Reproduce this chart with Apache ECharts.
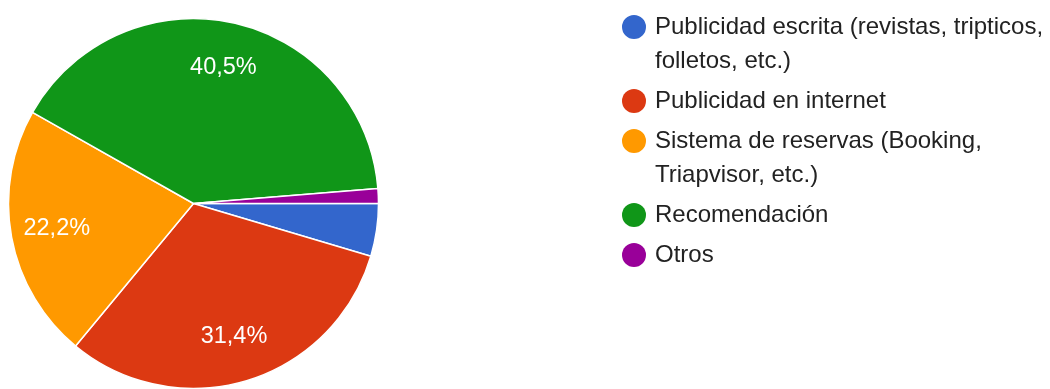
<!DOCTYPE html>
<html>
<head>
<meta charset="utf-8">
<script src="https://cdn.jsdelivr.net/npm/echarts@6/dist/echarts.min.js"></script>
<style>
  html, body { margin: 0; padding: 0; background: #ffffff; overflow: hidden; }
  #chart { width: 1050px; height: 389px; }
</style>
</head>
<body>
<div id="chart"></div>
<script>
// Answer categories, in drawing order (clockwise from 3 o'clock)
const categories = [
  'Publicidad escrita (revistas, tripticos, folletos, etc.)',
  'Publicidad en internet',
  'Sistema de reservas (Booking, Triapvisor, etc.)',
  'Recomendación',
  'Otros'
];
// Legend text, wrapped into lines
const legendLines = [
  ['Publicidad escrita (revistas, tripticos,', 'folletos, etc.)'],
  ['Publicidad en internet'],
  ['Sistema de reservas (Booking,', 'Triapvisor, etc.)'],
  ['Recomendación'],
  ['Otros']
];
// Share of responses, percent
const shares = [4.6, 31.4, 22.2, 40.5, 1.3];
const palette = ['#3366cc', '#dc3912', '#ff9900', '#109618', '#990099'];

const FONT = '"Liberation Sans", Arial, sans-serif';

// Dot sitting at the top of a two-line legend entry (the empty tail keeps
// the symbol box as tall as both text lines)
const TOP_DOT = 'path://M0,12A12,12,0,1,0,24,12A12,12,0,1,0,0,12ZM12,58L12.01,58Z';

const sliceData = categories.map((name, i) => ({ name: name, value: shares[i] }));

const legendData = categories.map((name, i) => ({
  name: name,
  icon: legendLines[i].length > 1 ? TOP_DOT : 'circle'
}));

const chart = echarts.init(document.getElementById('chart'), null, { renderer: 'canvas' });

chart.setOption({
  animation: false,
  color: palette,
  legend: {
    orient: 'vertical',
    left: 622,
    top: 10,
    padding: 0,
    itemWidth: 24,
    itemHeight: 58,
    itemGap: 6,
    symbolKeepAspect: true,
    itemStyle: { borderWidth: 0 },
    selectedMode: false,
    data: legendData,
    formatter: function (name) {
      return legendLines[categories.indexOf(name)].join('\n');
    },
    textStyle: {
      fontFamily: FONT,
      fontSize: 24,
      lineHeight: 34,
      color: '#222222',
      padding: [0, 0, 0, 4]
    }
  },
  series: [
    {
      name: 'slices',
      type: 'pie',
      center: [193.5, 203.5],
      radius: [0, 185],
      startAngle: 0,
      clockwise: true,
      label: { show: false },
      labelLine: { show: false },
      itemStyle: { borderColor: '#ffffff', borderWidth: 1.5 },
      emphasis: { disabled: true },
      data: sliceData
    },
    {
      // transparent ring that carries the percentage labels
      name: 'labels',
      type: 'pie',
      center: [193.5, 203.5],
      radius: [87, 185],
      startAngle: 0,
      clockwise: true,
      silent: true,
      avoidLabelOverlap: false,
      legendHoverLink: false,
      itemStyle: { color: 'rgba(0,0,0,0)', borderWidth: 0 },
      emphasis: { disabled: true },
      labelLine: { show: false },
      label: {
        show: true,
        position: 'inside',
        fontFamily: FONT,
        fontSize: 23.5,
        color: '#ffffff',
        formatter: function (p) {
          return p.value >= 5 ? p.value.toFixed(1).replace('.', ',') + '%' : '';
        }
      },
      data: sliceData
    }
  ]
});
</script>
</body>
</html>
